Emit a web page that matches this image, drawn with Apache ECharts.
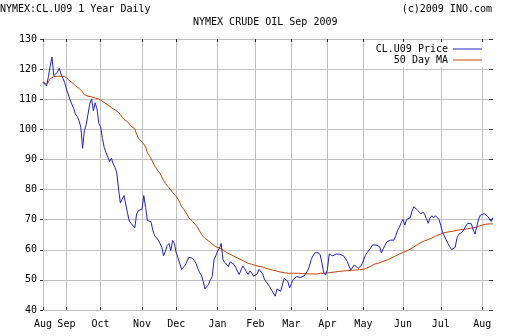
<!DOCTYPE html>
<html>
<head>
<meta charset="utf-8">
<script src="https://cdn.jsdelivr.net/npm/echarts@6/dist/echarts.min.js"></script>
<style>
html,body{margin:0;padding:0;background:#fff;}
#chart{width:512px;height:336px;}
</style>
</head>
<body>
<div id="chart"></div>
<script>
const monthNames = ['Aug','Sep','Oct','Nov','Dec','Jan','Feb','Mar','Apr','May','Jun','Jul','Aug'];
const monthYears = [2008,2008,2008,2008,2008,2009,2009,2009,2009,2009,2009,2009,2009];
const monthDays = [13,19,23,19,23,21,20,20,20,22,21,23,7];

const yTicks = [40,50,60,70,80,90,100,110,120,130];

const priceValues = [
115.6,115.0,114.4,117.5,121.0,124.0,117.8,118.4,119.0,120.3,
118.4,117.0,115.6,113.4,111.7,109.8,109.6,107.0,105.1,104.3,
102.9,100.7,93.7,99.6,101.5,105.1,108.4,110.1,106.2,108.8,
106.8,102.0,100.8,97.0,94.0,92.3,90.8,89.3,90.4,88.5,
87.4,85.5,80.0,75.5,76.8,78.0,78.5,72.0,69.5,68.7,
68.4,67.3,71.9,73.0,73.3,73.5,78.0,74.0,69.7,69.7,
69.3,66.5,64.7,64.0,63.2,62.1,60.8,58.0,59.5,61.4,
62.1,59.7,63.1,62.1,59.0,57.3,57.5,53.5,53.8,54.9,
55.2,57.5,57.8,57.2,56.4,55.5,53.8,52.4,51.6,49.5,
47.0,46.5,48.5,50.0,51.1,56.6,58.0,59.5,60.5,62.1,
56.6,55.8,55.5,54.4,56.0,56.0,55.2,54.2,52.9,51.8,
53.3,54.6,53.8,52.7,51.8,53.0,52.2,51.2,50.9,52.0,
53.5,53.8,52.0,50.3,49.4,48.9,47.7,46.6,46.4,44.6,
47.0,46.6,46.2,48.3,50.5,50.8,49.5,47.3,48.8,50.2,
50.7,51.1,50.5,50.8,51.0,51.3,51.6,53.0,54.5,56.8,
58.0,59.0,59.3,59.0,58.3,55.5,52.3,51.6,53.5,58.6,
58.5,58.0,58.0,58.6,58.6,58.5,58.4,58.0,57.0,56.2,
54.6,53.3,53.5,55.0,54.7,53.8,53.2,54.9,55.5,58.0,
59.0,59.4,60.5,61.6,61.8,61.6,61.9,61.0,59.0,60.3,
61.5,62.6,63.2,63.2,63.2,63.2,64.8,66.4,67.5,69.0,
70.1,68.2,70.1,70.2,70.6,72.8,74.3,73.9,73.2,72.8,
71.9,72.6,71.8,70.3,68.8,70.5,71.3,70.6,71.3,71.0,
70.1,68.0,65.7,64.6,63.3,62.1,61.0,60.1,59.6,60.8,
64.0,65.1,65.6,66.0,66.9,68.0,68.8,68.8,68.6,66.6,
65.2,67.7,70.2,71.5,72.0,72.0,71.7,71.1,70.5,69.4,
70.7
];

const maValues = [
115.8,115.4,115.0,115.8,116.8,117.3,117.5,117.6,117.6,117.6,
117.6,117.6,117.6,117.3,116.6,116.1,115.6,115.0,114.5,114.0,
113.6,113.1,112.4,111.5,111.0,111.0,111.0,110.8,110.5,110.4,
110.2,110.1,109.8,109.3,108.8,108.5,108.2,107.8,107.1,106.8,
106.5,106.2,105.6,104.9,104.0,103.3,103.0,102.5,101.8,101.0,
100.5,100.1,98.4,97.0,96.4,95.8,95.1,94.2,92.2,91.4,
90.3,89.2,87.9,87.0,86.1,85.4,84.2,83.0,82.0,81.3,
80.6,79.8,79.0,78.4,77.7,76.8,75.7,74.3,73.6,72.7,
71.7,70.6,70.0,69.5,69.0,68.1,67.3,66.2,65.2,64.5,
63.8,63.3,62.9,62.4,61.9,61.4,61.0,60.8,60.6,60.4,
59.9,59.4,59.1,58.8,58.5,58.2,57.9,57.6,57.3,57.0,
56.7,56.4,56.1,55.8,55.5,55.4,55.2,55.0,54.8,54.7,
54.5,54.4,54.3,54.0,53.8,53.6,53.5,53.3,53.2,53.0,
52.9,52.8,52.6,52.5,52.4,52.3,52.2,52.2,52.2,52.2,
52.2,52.2,52.2,52.1,52.1,52.0,52.0,52.0,52.0,52.0,
52.0,51.9,51.9,51.9,52.2,52.2,52.2,52.2,52.3,52.5,
52.5,52.6,52.6,52.7,52.8,52.9,52.9,53.0,53.0,53.1,
53.1,53.1,53.2,53.2,53.3,53.3,53.4,53.4,53.5,53.6,
54.0,54.3,54.5,54.8,55.2,55.4,55.5,55.7,55.9,56.2,
56.4,56.6,56.8,57.1,57.4,57.7,58.0,58.3,58.6,58.9,
59.1,59.4,59.6,59.9,60.2,60.5,60.9,61.3,61.7,62.0,
62.4,62.7,63.0,63.2,63.4,63.6,63.9,64.2,64.5,64.7,
65.0,65.2,65.5,65.7,65.8,65.9,66.0,66.1,66.2,66.4,
66.5,66.6,66.7,66.7,66.8,66.9,67.0,67.1,67.2,67.3,
67.4,67.6,67.8,68.0,68.2,68.4,68.5,68.5,68.6,68.6,
68.6
];

// build trading-day categories
const categories = [];
const monthStart = new Set();
monthNames.forEach((m, mi) => {
  monthStart.add(categories.length);
  for (let k = 1; k <= monthDays[mi]; k++) {
    categories.push(monthYears[mi] + '-' + m + '-' + k);
  }
});
const isMonthStart = (idx) => monthStart.has(idx);

const FONT = 'DejaVu Sans Mono';
const gridColor = '#c0c0c0';
const tickColor = '#333';

const chart = echarts.init(document.getElementById('chart'), null, {renderer: 'canvas'});
chart.setOption({
  backgroundColor: '#fff',
  animation: false,
  textStyle: {fontFamily: FONT},
  title: [
    {text: 'NYMEX:CL.U09 1 Year Daily', left: 0, top: 4, padding: 0,
     textStyle: {fontFamily: FONT, fontSize: 10, fontWeight: 'normal', color: '#000'}},
    {text: '(c)2009 INO.com', right: 20, top: 4, padding: 0,
     textStyle: {fontFamily: FONT, fontSize: 10, fontWeight: 'normal', color: '#000'}},
    {text: 'NYMEX CRUDE OIL Sep 2009', left: 193, top: 17, padding: 0,
     textStyle: {fontFamily: FONT, fontSize: 10, fontWeight: 'normal', color: '#000'}}
  ],
  legend: {
    orient: 'vertical',
    right: 25, top: 42,
    align: 'right',
    backgroundColor: '#fff',
    padding: [2, 5, 2, 6],
    itemGap: 1,
    itemWidth: 29, itemHeight: 1,
    icon: 'rect',
    textStyle: {fontFamily: FONT, fontSize: 10, color: '#000', padding: [0, 0, 0, 0]},
    data: ['CL.U09 Price', '50 Day MA']
  },
  grid: {left: 43, right: 19, top: 39, bottom: 26, containLabel: false},
  xAxis: [
    {
      type: 'category', data: categories, boundaryGap: false, position: 'bottom',
      axisLine: {show: true, lineStyle: {color: gridColor, width: 1}},
      axisTick: {show: true, inside: true, length: 3, interval: isMonthStart, lineStyle: {color: tickColor}},
      axisLabel: {interval: isMonthStart, margin: 9, fontFamily: FONT, fontSize: 10, color: '#000',
        formatter: (v) => v.split('-')[1]},
      splitLine: {show: true, interval: isMonthStart, lineStyle: {color: gridColor, width: 1}}
    },
    {
      type: 'category', data: categories, boundaryGap: false, position: 'top',
      axisLine: {show: true, lineStyle: {color: gridColor, width: 1}},
      axisTick: {show: true, inside: true, length: 3, interval: isMonthStart, lineStyle: {color: tickColor}},
      axisLabel: {show: false},
      splitLine: {show: false}
    }
  ],
  yAxis: [
    {
      type: 'value', min: yTicks[0], max: yTicks[yTicks.length - 1], interval: 10, position: 'left',
      axisLine: {show: true, lineStyle: {color: gridColor, width: 1}},
      axisTick: {show: true, inside: false, length: 3, lineStyle: {color: tickColor}},
      axisLabel: {margin: 6, fontFamily: FONT, fontSize: 10, color: '#000'},
      splitLine: {show: true, lineStyle: {color: gridColor, width: 1}}
    },
    {
      type: 'value', min: yTicks[0], max: yTicks[yTicks.length - 1], interval: 10, position: 'right',
      axisLine: {show: false},
      axisTick: {show: true, inside: true, length: 4, lineStyle: {color: tickColor}},
      axisLabel: {show: false},
      splitLine: {show: false}
    }
  ],
  series: [
    {
      name: 'CL.U09 Price', type: 'line', data: priceValues, xAxisIndex: 0, yAxisIndex: 0,
      showSymbol: false, symbol: 'none', z: 3,
      lineStyle: {color: '#2020c8', width: 1}, itemStyle: {color: '#2020c8'}
    },
    {
      name: '50 Day MA', type: 'line', data: maValues, xAxisIndex: 0, yAxisIndex: 0,
      showSymbol: false, symbol: 'none', z: 2,
      lineStyle: {color: '#c44400', width: 1}, itemStyle: {color: '#c44400'}
    }
  ]
});
</script>
</body>
</html>
